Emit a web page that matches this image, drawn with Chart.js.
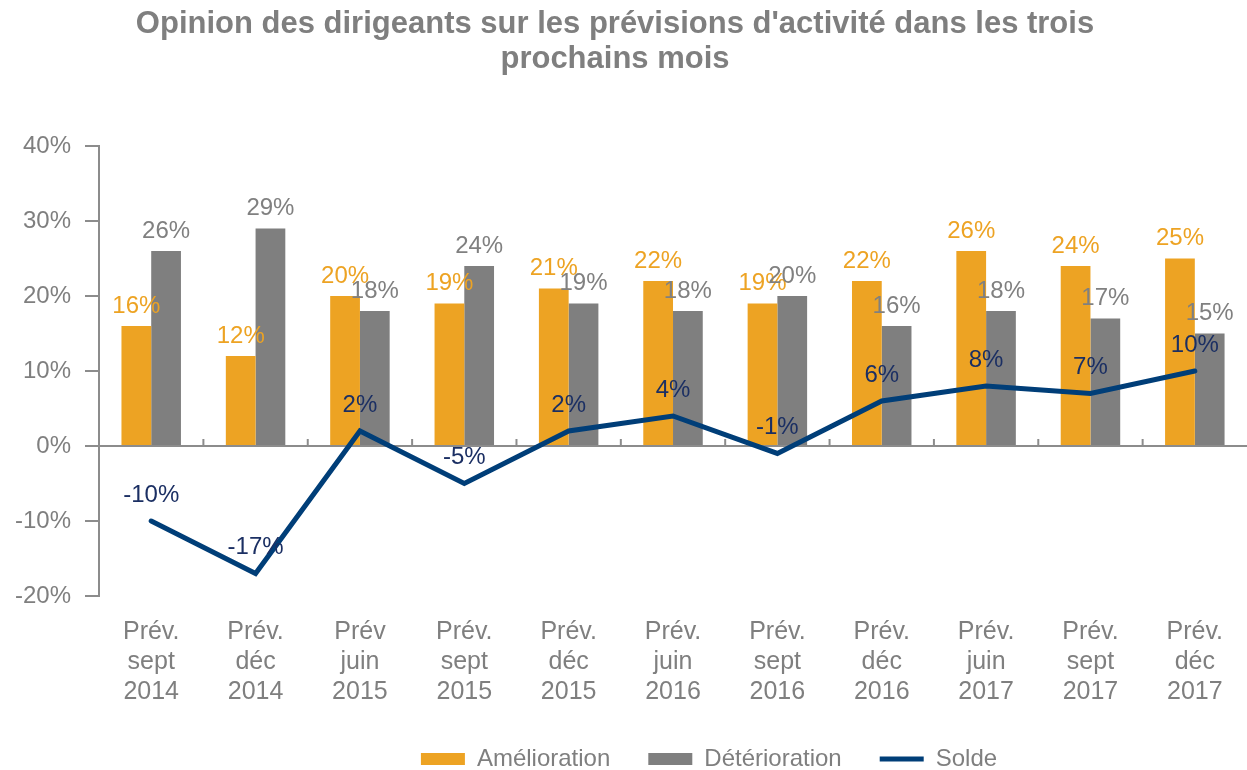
<html>

<head>
  <script src="https://cdn.jsdelivr.net/npm/chart.js"></script>
  <title>Opinion des dirigeants</title>
  <style>
    body { margin: 0; overflow: hidden; background: #fff; }
  </style>
</head>

<body>

  <canvas id="myChart" style="position:fixed;left:0;top:0;width:1247px;height:770px;"></canvas>

  <script>
    // catégories (axe x, sur 3 lignes)
    const categories = [
      ["Prév.", "sept", "2014"], ["Prév.", "déc", "2014"], ["Prév", "juin", "2015"],
      ["Prév.", "sept", "2015"], ["Prév.", "déc", "2015"], ["Prév.", "juin", "2016"],
      ["Prév.", "sept", "2016"], ["Prév.", "déc", "2016"], ["Prév.", "juin", "2017"],
      ["Prév.", "sept", "2017"], ["Prév.", "déc", "2017"],
    ];
    const amelioration = [16, 12, 20, 19, 21, 22, 19, 22, 26, 24, 25];
    const deterioration = [26, 29, 18, 24, 19, 18, 20, 16, 18, 17, 15];
    const solde = [-10, -17, 2, -5, 2, 4, -1, 6, 8, 7, 10];
    const yTicks = [-20, -10, 0, 10, 20, 30, 40];

    const ORANGE = "#EDA323";
    const GRAY = "#7F7F7F";
    const NAVY = "#003E78";
    const FONT = "Arial, 'Liberation Sans', sans-serif";

    // étiquettes de valeurs (pas de plugin datalabels dispo)
    const valueLabels = {
      id: "valueLabels",
      afterDatasetsDraw: (chart) => {
        const { ctx } = chart;
        const colors = [ORANGE, "#808080", "#1B2F63"];
        ctx.save();
        ctx.font = "24px " + FONT;
        ctx.textAlign = "center";
        ctx.textBaseline = "alphabetic";
        chart.data.datasets.forEach((ds, i) => {
          const meta = chart.getDatasetMeta(i);
          meta.data.forEach((el, j) => {
            ctx.fillStyle = colors[i];
            const off = i === 2 ? 19 : 13;
            ctx.fillText(ds.data[j] + "%", el.x, el.y - off);
          });
        });
        ctx.restore();
      },
    };

    // petites graduations sur la ligne du zéro, entre les catégories
    const zeroTicks = {
      id: "zeroTicks",
      afterDatasetsDraw: (chart) => {
        const { ctx } = chart;
        const x = chart.scales.x;
        const y0 = chart.scales.y.getPixelForValue(0);
        ctx.save();
        ctx.strokeStyle = "#8C8C8C";
        ctx.lineWidth = 2;
        for (let i = 0; i < categories.length - 1; i++) {
          const xb = (x.getPixelForTick(i) + x.getPixelForTick(i + 1)) / 2;
          ctx.beginPath();
          ctx.moveTo(xb, y0);
          ctx.lineTo(xb, y0 - 7);
          ctx.stroke();
        }
        ctx.restore();
      },
    };

    // recale titre et légende comme dans l'original
    const blockShift = {
      id: "blockShift",
      afterLayout: (chart) => {
        chart.legend.left += 80;
        chart.legend.right += 80;
        chart.legend.top -= 19;
        chart.legend.bottom -= 19;
        chart.titleBlock.left -= 14;
        chart.titleBlock.right -= 14;
      },
    };

    const ctx1 = document.getElementById("myChart").getContext("2d");
    const myChart = new Chart(ctx1, {
      type: "bar",
      data: {
        labels: categories,
        datasets: [
          {
            label: "Amélioration",
            data: amelioration,
            backgroundColor: ORANGE,
            borderWidth: 0,
            barPercentage: 1,
            categoryPercentage: 0.57,
          },
          {
            label: "Détérioration",
            data: deterioration,
            backgroundColor: GRAY,
            borderWidth: 0,
            barPercentage: 1,
            categoryPercentage: 0.57,
          },
          {
            label: "Solde",
            type: "line",
            data: solde,
            borderColor: NAVY,
            backgroundColor: NAVY,
            borderWidth: 5,
            borderCapStyle: "round",
            borderJoinStyle: "miter",
            pointRadius: 0,
            tension: 0,
            order: -1,
          },
        ],
      },
      options: {
        responsive: false,
        animation: false,
        layout: { padding: { left: 1, right: -10, top: 0, bottom: -30 } },
        scales: {
          x: {
            grid: { display: false, drawTicks: false },
            border: { display: false },
            ticks: {
              color: GRAY,
              padding: 21,
              maxRotation: 0,
              font: { size: 25, family: FONT, lineHeight: 1.2 },
            },
          },
          y: {
            min: -20,
            max: 40,
            afterBuildTicks: (scale) => {
              scale.ticks = yTicks.map((v) => ({ value: v }));
            },
            border: { display: true, color: "#8C8C8C", width: 2 },
            grid: {
              drawOnChartArea: true,
              color: (c) => (c.tick && c.tick.value === 0 ? "#8C8C8C" : "rgba(0,0,0,0)"),
              tickColor: "#8C8C8C",
              lineWidth: 2,
              tickLength: 14,
            },
            ticks: {
              color: GRAY,
              padding: 14,
              font: { size: 24, family: FONT },
              callback: (v) => v + "%",
            },
          },
        },
        plugins: {
          tooltip: { enabled: false },
          title: {
            display: true,
            text: ["Opinion des dirigeants sur les prévisions d'activité dans les trois", "prochains mois"],
            color: GRAY,
            font: { size: 31, weight: "bold", family: FONT, lineHeight: 1.16 },
            padding: { top: 6, bottom: 68 },
          },
          legend: {
            position: "bottom",
            labels: {
              color: GRAY,
              font: { size: 24, family: FONT },
              usePointStyle: true,
              pointStyleWidth: 44,
              boxHeight: 12,
              padding: 38,
              sort: (a, b) => a.datasetIndex - b.datasetIndex,
              generateLabels: (chart) =>
                Chart.defaults.plugins.legend.labels.generateLabels(chart).map((item) => {
                  item.pointStyle = item.datasetIndex === 2 ? "line" : "rect";
                  return item;
                }),
            },
          },
        },
      },
      plugins: [zeroTicks, valueLabels, blockShift],
    });
  </script>
</body>

</html>
